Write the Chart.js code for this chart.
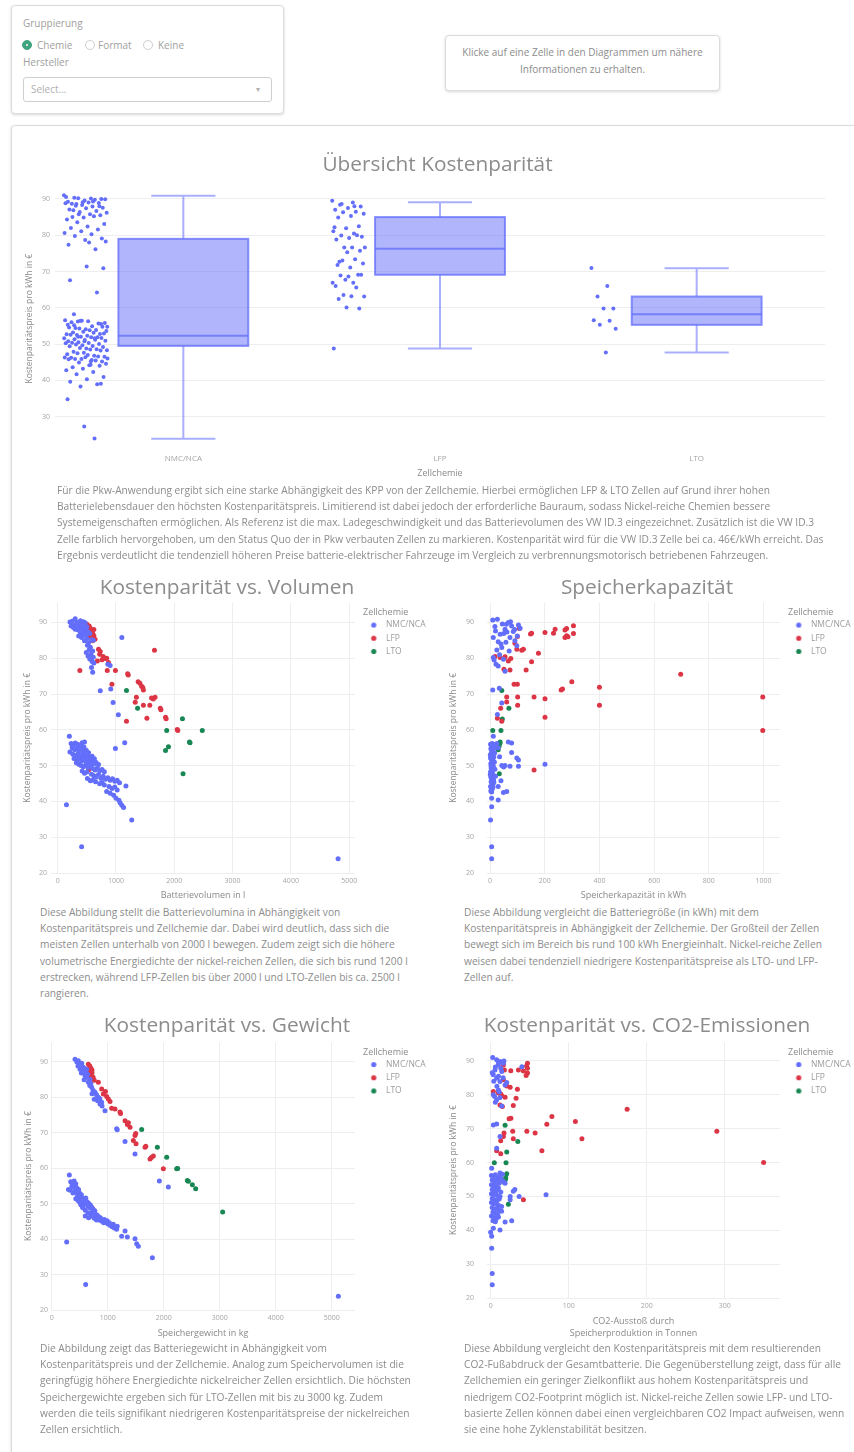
<!DOCTYPE html>
<html>
<head>
<meta charset="utf-8">
<script src="https://cdn.jsdelivr.net/npm/chart.js@4.4.0/dist/chart.umd.min.js"></script>
<style>
body{margin:0;width:854px;height:1452px;position:relative;overflow:hidden;background:#fff;font-family:"Open Sans",sans-serif;color:#8a8a8a}
.card{position:absolute;border:1px solid #dcdcdc;border-radius:4px;box-shadow:0 1px 3px rgba(0,0,0,.16);background:#fff}
.lbl{position:absolute;font-size:10px;line-height:12px;color:#a0a0a0;white-space:nowrap}
.radio{position:absolute;width:8px;height:8px;border:1px solid #cfcfcf;border-radius:50%;background:#fff}
.radio.on{background:#3fa47f;border-color:#3fa47f}
.radio.on:after{content:"";position:absolute;left:3px;top:3px;width:2px;height:2px;border-radius:50%;background:#fff}
.txt{position:absolute;font-size:10.2px;line-height:16.2px;color:#8c8c8c;white-space:nowrap}
canvas{position:absolute}
</style>
</head>
<body>

<div class="card" style="left:11px;top:5px;width:271px;height:107px"></div>
<div class="lbl" style="left:23px;top:17px">Gruppierung</div>
<div class="radio on" style="left:22px;top:40px"></div>
<div class="lbl" style="left:37px;top:39px">Chemie</div>
<div class="radio" style="left:85px;top:40px"></div>
<div class="lbl" style="left:98px;top:39px">Format</div>
<div class="radio" style="left:143px;top:40px"></div>
<div class="lbl" style="left:158px;top:39px">Keine</div>
<div class="lbl" style="left:23px;top:56px">Hersteller</div>
<div style="position:absolute;left:23px;top:77px;width:247px;height:23px;border:1px solid #cfcfcf;border-radius:3px"></div>
<div class="lbl" style="left:31px;top:83px;color:#b0b0b0">Select...</div>
<div class="lbl" style="left:256px;top:83px;color:#b0b0b0;font-size:8px">&#9662;</div>

<div class="card" style="left:445px;top:35px;width:273px;height:54px"></div>
<div class="lbl" style="left:445px;top:44px;width:275px;text-align:center;line-height:17px;color:#8c8c8c">Klicke auf eine Zelle in den Diagrammen um nähere<br>Informationen zu erhalten.</div>

<div class="card" style="left:11px;top:125px;width:870px;height:1400px"></div>

<canvas id="boxChart" width="845" height="345" style="left:15px;top:140px"></canvas>
<div class="txt" style="left:57px;top:482px">Für die Pkw-Anwendung ergibt sich eine starke Abhängigkeit des KPP von der Zellchemie. Hierbei ermöglichen LFP &amp; LTO Zellen auf Grund ihrer hohen<br>Batterielebensdauer den höchsten Kostenparitätspreis. Limitierend ist dabei jedoch der erforderliche Bauraum, sodass Nickel-reiche Chemien bessere<br>Systemeigenschaften ermöglichen. Als Referenz ist die max. Ladegeschwindigkeit und das Batterievolumen des VW ID.3 eingezeichnet. Zusätzlich ist die VW ID.3<br>Zelle farblich hervorgehoben, um den Status Quo der in Pkw verbauten Zellen zu markieren. Kostenparität wird für die VW ID.3 Zelle bei ca. 46€/kWh erreicht. Das<br>Ergebnis verdeutlicht die tendenziell höheren Preise batterie-elektrischer Fahrzeuge im Vergleich zu verbrennungsmotorisch betriebenen Fahrzeugen.</div>

<canvas id="volChart" width="414" height="331" style="left:20px;top:570px"></canvas>
<canvas id="capChart" width="414" height="331" style="left:440px;top:570px"></canvas>
<div class="txt" style="left:40px;top:904px">Diese Abbildung stellt die Batterievolumina in Abhängigkeit von<br>Kostenparitätspreis und Zellchemie dar. Dabei wird deutlich, dass sich die<br>meisten Zellen unterhalb von 2000 l bewegen. Zudem zeigt sich die höhere<br>volumetrische Energiedichte der nickel-reichen Zellen, die sich bis rund 1200 l<br>erstrecken, während LFP-Zellen bis über 2000 l und LTO-Zellen bis ca. 2500 l<br>rangieren.</div>
<div class="txt" style="left:464px;top:904px">Diese Abbildung vergleicht die Batteriegröße (in kWh) mit dem<br>Kostenparitätspreis in Abhängigkeit der Zellchemie. Der Großteil der Zellen<br>bewegt sich im Bereich bis rund 100 kWh Energieinhalt. Nickel-reiche Zellen<br>weisen dabei tendenziell niedrigere Kostenparitätspreise als LTO- und LFP-<br>Zellen auf.</div>

<canvas id="wgtChart" width="414" height="332" style="left:20px;top:1010px"></canvas>
<canvas id="co2Chart" width="414" height="332" style="left:440px;top:1010px"></canvas>
<div class="txt" style="left:40px;top:1340px">Die Abbildung zeigt das Batteriegewicht in Abhängigkeit vom<br>Kostenparitätspreis und der Zellchemie. Analog zum Speichervolumen ist die<br>geringfügig höhere Energiedichte nickelreicher Zellen ersichtlich. Die höchsten<br>Speichergewichte ergeben sich für LTO-Zellen mit bis zu 3000 kg. Zudem<br>werden die teils signifikant niedrigeren Kostenparitätspreise der nickelreichen<br>Zellen ersichtlich.</div>
<div class="txt" style="left:464px;top:1340px">Diese Abbildung vergleicht den Kostenparitätspreis mit dem resultierenden<br>CO2-Fußabdruck der Gesamtbatterie. Die Gegenüberstellung zeigt, dass für alle<br>Zellchemien ein geringer Zielkonflikt aus hohem Kostenparitätspreis und<br>niedrigem CO2-Footprint möglich ist. Nickel-reiche Zellen sowie LFP- und LTO-<br>basierte Zellen können dabei einen vergleichbaren CO2 Impact aufweisen, wenn<br>sie eine hohe Zyklenstabilität besitzen.</div>

<script>
// ---------- data ----------
const chemistries = ['NMC/NCA', 'LFP', 'LTO'];
const chemColors = ['#636efa', '#dc3545', '#198754'];
const priceTicks = [20, 30, 40, 50, 60, 70, 80, 90];
const boxPriceTicks = [30, 40, 50, 60, 70, 80, 90];
const volumeTicks = [0, 1000, 2000, 3000, 4000, 5000];
const capacityTicks = [0, 200, 400, 600, 800, 1000];
const weightTicks = [0, 1000, 2000, 3000, 4000, 5000];
const co2Ticks = [0, 100, 200, 300];
const priceTitle = 'Kostenparitätspreis pro kWh in €';

// box statistics per chemistry
const boxMin = [23.9, 48.8, 47.7];
const boxQ1 = [49.5, 69.1, 55.3];
const boxMedian = [52.3, 76.3, 58.2];
const boxQ3 = [79.0, 85.0, 63.1];
const boxMax = [90.9, 89.1, 70.9];

// [volume l, price]
const nmcVolume = [
  [300,91.0],[210,90.1],[250,90.3],[330,90.0],[360,89.6],[280,89.2],[400,89.8],[440,90.2],[470,89.9],[230,89.0],
  [320,88.7],[380,88.9],[420,88.3],[500,88.8],[350,87.9],[300,88.1],[450,87.6],[520,87.4],[390,87.1],[430,86.7],
  [480,86.4],[360,86.2],[410,85.8],[550,86.9],[500,85.5],[460,84.9],[530,84.3],[580,85.2],[510,83.6],[560,83.1],
  [540,82.4],[600,82.0],[490,81.6],[570,81.1],[520,80.6],[610,80.3],[550,79.8],[590,79.1],[620,78.7],[580,77.4],
  [600,76.1],[1100,85.8],[860,78.3],[900,78.0],[610,85.0],[470,88.0],[430,89.1],[390,90.5],[340,89.3],[270,88.6],
  [730,70.9],[910,71.4],[950,67.6],[1040,64.2],[1150,56.4],[990,54.8],[1170,44.3],[200,58.2],[150,39.1],[410,27.3],
  [1270,34.8],[4810,24.0],
  [230,56.2],[270,55.8],[300,56.3],[340,56.0],[380,55.7],[420,56.4],[460,56.6],[250,54.9],[290,54.4],[330,54.8],
  [370,54.1],[410,54.6],[450,53.9],[490,54.3],[530,53.6],[210,53.8],[260,53.2],[310,52.8],[350,53.4],[390,52.7],
  [430,53.1],[470,52.5],[510,52.9],[550,52.3],[590,52.6],[630,51.9],[280,52.0],[330,51.6],[370,51.9],[410,51.3],
  [450,51.7],[490,51.1],[540,50.8],[580,51.2],[620,50.5],[660,50.9],[700,50.3],[360,50.4],[400,50.0],[440,49.7],
  [480,50.2],[520,49.5],[560,49.9],[600,49.2],[640,48.8],[680,49.4],[720,48.6],[760,48.9],[800,48.3],[420,48.5],
  [460,47.9],[500,48.2],[580,47.6],[620,47.2],[660,46.8],[700,47.5],[740,46.5],[780,47.0],[820,46.2],[860,46.6],
  [900,45.9],[940,46.3],[980,45.6],[1020,45.9],[1060,45.2],[510,46.4],[560,45.8],[650,45.5],[720,44.9],[800,44.6],
  [880,44.2],[930,43.6],[980,44.0],[1020,43.2],[840,42.8],[900,42.3],[960,41.7],[1000,40.9],[1050,40.3],[1070,39.6],
  [1100,38.9],[1130,38.3],[600,46.0],[760,45.3],[450,55.2],[350,55.5],[320,50.8],[250,55.3],[520,51.6],[440,52.0]
];
const lfpVolume = [
  [500,89.5],[540,89.0],[560,88.4],[520,87.9],[580,87.5],[600,87.0],[550,86.5],[620,86.3],[570,85.9],[640,85.3],
  [600,84.9],[700,82.5],[730,81.9],[720,81.1],[780,80.5],[810,79.9],[760,79.6],[680,79.2],[870,78.8],[840,80.0],
  [380,76.6],[850,76.6],[990,76.6],[930,72.7],[1200,75.7],[1210,75.3],[1660,82.2],[1380,73.4],[1410,73.0],[1440,72.2],
  [1470,71.1],[1460,71.8],[1350,69.1],[1330,67.7],[1470,66.9],[1580,66.9],[1610,68.9],[1670,69.1],[1640,68.6],[1760,66.0],
  [1770,65.6],[1850,63.5],[1860,63.1],[1530,63.2],[1180,62.4],[2060,59.8],[2050,60.1],[530,48.8],[620,88.0],[530,88.6]
];
const ltoVolume = [
  [1180,71.0],[1370,66.0],[2140,63.1],[1870,59.8],[2480,59.8],[2260,56.6],[2270,56.4],[1900,55.3],[1850,54.2],[2150,47.7]
];

// [capacity kWh, price]
const nmcCapacity = [
  [10,90.7],[27,90.9],[18,88.9],[12,85.8],[30,84.6],[43,83.0],[37,86.7],[55,88.1],[67,90.0],[79,89.0],
  [104,89.3],[110,88.4],[73,85.8],[91,84.9],[98,83.5],[12,80.2],[22,78.3],[30,77.8],[49,79.7],[55,76.4],
  [60,89.5],[75,90.2],[85,87.5],[50,86.9],[62,87.3],[45,89.6],[90,88.0],[40,84.0],[25,82.3],[35,81.0],
  [70,82.0],[100,86.2],[58,84.5],[20,87.6],[15,79.5],
  [10,71.1],[34,71.6],[43,67.5],[27,64.3],[12,58.2],
  [2,56.0],[5,55.6],[8,56.2],[12,55.3],[15,55.8],[3,54.7],[6,54.2],[9,54.9],[13,53.8],[4,53.4],
  [7,52.9],[10,53.1],[14,52.4],[2,52.1],[5,51.7],[8,51.9],[11,51.3],[16,51.0],[3,50.6],[6,50.2],
  [9,50.8],[12,49.9],[4,49.4],[7,49.1],[10,48.7],[13,49.3],[2,48.3],[5,47.9],[8,48.0],[11,47.4],
  [15,47.1],[3,46.8],[6,46.3],[9,46.6],[12,45.9],[4,45.5],[7,45.1],[10,44.7],[14,45.3],[2,44.2],
  [5,43.8],[8,43.5],[11,44.0],[3,42.9],[6,42.6],[4,50.0],[1,53.0],[17,53.5],[18,49.0],[1,47.5],
  [13,46.0],[16,55.0],
  [79,56.3],[67,56.6],[79,53.7],[98,52.1],[104,51.6],[73,49.8],[104,49.8],[43,50.0],[201,50.4],[40,45.8],
  [30,44.2],[49,42.5],[61,42.8],[30,40.4],[6,40.9],[6,38.5],[2,34.8],[6,27.3],[6,24.0],[25,56.2],
  [30,55.0],[55,50.0],[50,49.6],[35,52.5],[20,47.0]
];
const lfpCapacity = [
  [107,88.3],[152,87.0],[148,86.8],[201,87.2],[232,87.0],[238,88.1],[274,87.9],[280,88.3],[305,89.1],[305,86.9],
  [274,85.8],[280,86.3],[100,86.1],[91,84.2],[98,82.5],[116,82.2],[122,82.5],[177,81.4],[152,79.0],[132,76.7],
  [18,80.5],[37,80.2],[55,80.4],[67,79.2],[76,79.9],[51,76.9],[73,76.7],[88,72.7],[100,72.7],[260,71.1],
  [299,73.4],[400,71.9],[400,66.9],[697,75.5],[997,69.2],[997,59.8],[61,69.2],[101,69.2],[161,69.2],[201,68.7],
  [61,67.8],[101,66.9],[39,66.0],[201,63.5],[27,63.2],[43,62.4],[161,48.8],[285,86.0],[265,71.4]
];
const ltoCapacity = [
  [43,71.0],[69,66.0],[45,63.0],[10,59.8],[40,59.8],[37,56.6],[36,56.2],[33,55.4],[30,54.4],[34,47.7]
];

// [weight kg, price]
const nmcWeight = [
  [417,90.7],[476,90.3],[536,89.6],[506,87.9],[565,87.0],[595,86.1],[655,84.2],[714,82.8],[774,81.4],[833,80.0],
  [893,78.6],[952,76.2],[625,87.9],[684,85.1],[863,78.1],[450,89.9],[500,89.2],[560,88.5],[530,86.8],[590,88.1],
  [470,88.8],[620,85.6],[700,83.9],[740,82.0],[800,80.7],[760,79.4],[820,79.0],[900,77.5],[640,86.5],[580,84.9],
  [680,83.3],[720,81.0],[860,79.6],[550,87.6],[600,87.3],
  [1161,71.1],[1170,70.8],[1310,67.5],[1488,64.0],[1923,56.4],[2083,54.7],[315,58.1],[268,39.2],[607,27.2],[1798,34.7],
  [5119,23.9],[1488,40.1],[1518,38.7],[1547,38.0],[1310,42.3],[1250,40.8],[1351,40.6],
  [340,56.2],[370,55.9],[400,56.4],[430,55.6],[360,55.0],[390,54.6],[420,55.2],[450,54.4],[480,54.0],[410,53.5],
  [440,53.1],[470,53.6],[500,52.9],[530,52.5],[460,52.1],[490,51.8],[520,52.2],[550,51.5],[580,51.1],[610,51.6],
  [540,50.7],[570,50.3],[600,49.9],[630,50.5],[660,50.1],[690,49.6],[650,49.2],[680,48.8],[710,49.1],[740,48.4],
  [770,48.0],[720,47.6],[750,47.3],[780,47.0],[810,46.8],[840,46.3],[870,46.0],[820,45.6],[860,45.3],[900,45.0],
  [930,44.6],[960,44.9],[1000,44.3],[1040,43.9],[1080,43.5],[1120,43.1],[1160,42.8],[1170,43.6],[940,45.5],[990,45.2],
  [1030,44.6],[1100,44.2],[500,50.4],[520,49.7],[560,48.8],[600,48.1],[650,47.4],[700,46.5],[760,45.9],[800,45.4],
  [300,54.0],[330,53.8],[380,53.0],[430,51.4],[470,50.9],[550,49.0],[600,46.5],[660,46.0]
];
const lfpWeight = [
  [655,89.3],[680,88.8],[700,88.2],[640,87.9],[690,87.4],[720,86.9],[660,86.5],[700,86.0],[740,85.6],[680,85.2],
  [760,84.8],[833,84.2],[893,82.3],[923,80.9],[982,80.2],[1012,79.5],[1042,78.8],[960,81.6],[1071,76.9],[1131,76.7],
  [1220,75.8],[1230,75.4],[1310,73.4],[1351,72.3],[1399,71.5],[1370,72.8],[1488,69.2],[1500,69.8],[1458,67.8],[1506,66.9],
  [1667,65.9],[1680,66.2],[1756,62.6],[1815,63.4],[1780,63.0],[1994,59.8],[732,48.6],[720,87.7],[730,85.1]
];
const ltoWeight = [
  [1607,70.9],[1887,65.9],[2054,63.1],[2232,59.8],[2250,59.9],[2423,56.5],[2440,56.3],[2512,55.3],[2571,54.2],[3053,47.6]
];

// [CO2 t, price]
const nmcCo2 = [
  [2.6,91.0],[7.7,90.3],[12,89.8],[9.9,88.8],[16.3,89.3],[5.6,87.3],[14.2,86.9],[3.4,85.9],[7.7,84.9],[12,83.9],
  [18.5,82.9],[20.6,83.6],[40,88.3],[9.9,81.4],[3.4,80.0],[7.7,78.5],[14.2,76.7],[10,89.5],[6,88.2],[13,87.8],
  [4,84.0],[10,85.5],[16,85.0],[8,82.5],[5,79.5],[12,79.2],[2,86.5],[17,90.0],[11,80.8],[6,77.8],
  [3.4,71.1],[7.7,71.4],[12,67.7],[7.7,64.2],[1.3,58.3],
  [1,56.2],[3,55.8],[6,56.4],[9,55.5],[12,56.0],[15,56.5],[2,54.8],[5,54.3],[8,54.9],[11,53.9],
  [1,53.4],[4,52.9],[7,53.2],[10,52.5],[2,52.0],[5,51.6],[8,51.9],[13,51.3],[1,50.8],[4,50.3],
  [7,50.7],[10,49.9],[2,49.4],[5,49.0],[8,48.7],[11,49.2],[1,48.2],[4,47.8],[7,48.0],[10,47.4],
  [14,47.0],[2,46.7],[5,46.2],[8,46.5],[11,45.8],[3,45.4],[6,45.0],[9,44.6],[1,44.2],[4,43.8],
  [7,43.4],[3,42.8],[6,42.5],[16,54.5],[13,55.2],
  [12,56.9],[18.5,53.9],[29,51.5],[31,52.0],[25,50.0],[12,50.0],[25,49.0],[36.5,50.0],[71,50.5],[14,45.6],
  [10,43.9],[18.5,42.4],[27,42.8],[12,40.1],[3.4,40.6],[0,39.4],[1.3,38.2],[1.3,34.7],[2,27.2],[2,23.9]
];
const lfpCo2 = [
  [16.3,88.8],[17.6,87.3],[25.8,87.1],[35.6,87.3],[42,87.0],[47.2,89.3],[47.2,87.8],[47.2,86.4],[45.5,85.7],[16.3,84.4],
  [20.6,82.6],[25,82.2],[34.3,81.6],[3.4,81.0],[9.9,80.5],[14.2,79.7],[18.5,79.3],[32.6,79.0],[29,76.8],[12,77.0],
  [15,76.5],[23.6,72.9],[26,73.1],[78.5,73.6],[72,71.3],[108.6,72.1],[117,67.0],[175,75.7],[290,69.2],[350,60.0],
  [46.4,69.2],[57,68.7],[28.3,69.2],[17.1,68.7],[16.3,67.7],[12.9,66.4],[29,67.0],[65.7,63.5],[7.7,63.5],[12.9,62.6],
  [42,49.0],[46,88.5],[13,80.2]
];
const ltoCo2 = [
  [18.5,71.0],[34.8,66.2],[20.6,63.1],[4.7,59.9],[19.7,59.9],[20.6,56.7],[19.3,55.6],[17.6,54.1],[19,55.0],[22.7,47.7]
];

// ---------- style ----------
Chart.defaults.font.family = '"Open Sans", sans-serif';
Chart.defaults.color = '#a5a5a5';
const gridColor = '#eeeeee';
const titleColor = '#8c8c8c';
const axisTitleColor = '#8a8a8a';
// strip position left of each box (category units)
const stripOffset = [-0.38, -0.355, -0.36];
const stripSpread = [0.17, 0.13, 0.1];
const legendWidth = 66;

function legendDot(color) {
  const c = document.createElement('canvas');
  c.width = 14; c.height = 7;
  const g = c.getContext('2d');
  g.fillStyle = color;
  g.beginPath(); g.arc(6, 3.5, 2.6, 0, Math.PI * 2); g.fill();
  return c;
}
const dots = chemColors.map(legendDot);
const plainNum = v => String(v);

// box + whiskers, drawn through the chart's own scales
const boxPlugin = {
  id: 'boxes',
  beforeDatasetsDraw(chart) {
    const {ctx, scales: {x, y}} = chart;
    ctx.save();
    chemistries.forEach((c, i) => {
      const xl = x.getPixelForValue(i - 0.253), xr = x.getPixelForValue(i + 0.253);
      const cl = x.getPixelForValue(i - 0.125), cr = x.getPixelForValue(i + 0.125);
      const xc = x.getPixelForValue(i);
      const q1 = y.getPixelForValue(boxQ1[i]), q3 = y.getPixelForValue(boxQ3[i]);
      const md = y.getPixelForValue(boxMedian[i]);
      const lo = y.getPixelForValue(boxMin[i]), hi = y.getPixelForValue(boxMax[i]);
      ctx.fillStyle = 'rgba(99,110,250,0.5)';
      ctx.fillRect(xl, q3, xr - xl, q1 - q3);
      ctx.strokeStyle = 'rgba(99,110,250,0.75)';
      ctx.lineWidth = 2;
      ctx.strokeRect(xl, q3, xr - xl, q1 - q3);
      ctx.beginPath();
      ctx.moveTo(xl, md); ctx.lineTo(xr, md);
      ctx.stroke();
      ctx.strokeStyle = 'rgba(99,110,250,0.55)';
      ctx.beginPath();
      ctx.moveTo(xc, q3); ctx.lineTo(xc, hi);
      ctx.moveTo(xc, q1); ctx.lineTo(xc, lo);
      ctx.moveTo(cl, hi); ctx.lineTo(cr, hi);
      ctx.moveTo(cl, lo); ctx.lineTo(cr, lo);
      ctx.stroke();
    });
    ctx.restore();
  }
};

// ---------- overview (box plot) ----------
const stripSets = [nmcVolume, lfpVolume, ltoVolume].map((pts, i) => ({
  label: chemistries[i],
  data: pts.map((p, k) => ({x: i + stripOffset[i] + (((k * 0.6180339887) % 1) - 0.5) * stripSpread[i], y: p[1]})),
  backgroundColor: chemColors[0],
  borderWidth: 0,
  pointRadius: 2
}));

new Chart(document.getElementById('boxChart'), {
  type: 'scatter',
  data: {datasets: stripSets},
  plugins: [boxPlugin],
  options: {
    responsive: false, animation: false, events: [],
    plugins: {
      legend: {display: false},
      tooltip: {enabled: false},
      title: {display: true, text: 'Übersicht Kostenparität', color: titleColor, font: {size: 20.8, weight: 'normal'}, padding: {top: 12.5, bottom: 12.4}}
    },
    scales: {
      x: {
        type: 'linear', min: -0.5, max: 2.5,
        afterBuildTicks: s => { s.ticks = chemistries.map((c, i) => ({value: i})); },
        afterFit: s => { s.height = 37.5; },
        grid: {display: false, drawTicks: false}, border: {display: false},
        ticks: {padding: 6.7, autoSkip: false, maxRotation: 0, font: {size: 8}, callback: v => chemistries[v]},
        title: {display: true, text: 'Zellchemie', color: axisTitleColor, font: {size: 9}, padding: {top: 0, bottom: 6.3}}
      },
      y: {
        min: 21.5, max: 92.5,
        afterBuildTicks: s => { s.ticks = boxPriceTicks.map(v => ({value: v})); },
        afterFit: s => { s.width = 40; },
        grid: {color: gridColor, drawTicks: false}, border: {display: false},
        ticks: {padding: 5, font: {size: 7}, callback: plainNum},
        title: {display: true, text: priceTitle, color: axisTitleColor, font: {size: 8.5}, padding: {top: 9.9, bottom: 0}}
      },
      tail: {type: 'linear', axis: 'y', position: 'right', display: true, grid: {display: false}, ticks: {display: false}, border: {display: false}, afterFit: s => { s.width = 35; }}
    }
  }
});

// ---------- scatter charts ----------
function scatterChart(id, o) {
  const chart = new Chart(document.getElementById(id), {
    type: 'scatter',
    data: {
      datasets: o.sets.map((pts, i) => ({
        label: chemistries[i],
        data: pts.map(p => ({x: p[0], y: p[1]})),
        backgroundColor: chemColors[i],
        borderWidth: 0,
        pointRadius: 2.5
      }))
    },
    options: {
      responsive: false, animation: false, events: [],
      plugins: {
        tooltip: {enabled: false},
        title: {display: true, text: o.title, color: titleColor, font: {size: 20.8, weight: 'normal'}, padding: {top: o.titleTop, bottom: o.titleBottom}},
        legend: {
          position: 'right', align: 'start', fullSize: false,
          title: {display: true, text: 'Zellchemie', position: 'start', color: axisTitleColor, font: {size: 9}, padding: {top: 5.5, bottom: -3}},
          labels: {
            usePointStyle: true, pointStyleWidth: 14, boxHeight: 7, padding: 4.7,
            font: {size: 8.5}, color: '#9c9c9c',
            generateLabels: ch => Chart.defaults.plugins.legend.labels.generateLabels(ch)
              .map((l, i) => Object.assign(l, {pointStyle: dots[i]}))
          }
        }
      },
      scales: {
        x: {
          type: 'linear', min: o.xMin, max: o.xMax,
          afterBuildTicks: s => { s.ticks = o.xTicks.map(v => ({value: v})); },
          afterFit: s => { s.height = o.xAxisH; },
          grid: {color: gridColor, drawTicks: false}, border: {display: false},
          ticks: {padding: 4, autoSkip: false, maxRotation: 0, font: {size: 7}, callback: plainNum},
          title: {display: true, text: o.xTitle, color: axisTitleColor, font: {size: 9, lineHeight: o.xTitleLH}, padding: {top: 0, bottom: o.xTitlePad}}
        },
        y: {
          min: 20, max: 95.5,
          afterBuildTicks: s => { s.ticks = priceTicks.map(v => ({value: v})); },
          afterFit: s => { s.width = o.yAxisW; },
          grid: {color: gridColor, drawTicks: false}, border: {display: false},
          ticks: {padding: o.yTickPad, font: {size: 7}, callback: plainNum},
          title: {display: true, text: priceTitle, color: axisTitleColor, font: {size: 8.5}, padding: {top: o.yTitlePad, bottom: 0}}
        },
        gap: {type: 'linear', axis: 'y', position: 'right', display: true, weight: 0, grid: {display: false}, ticks: {display: false}, border: {display: false}, afterFit: s => { s.width = 8; }},
        tail: {type: 'linear', axis: 'y', position: 'right', display: true, weight: 2000, grid: {display: false}, ticks: {display: false}, border: {display: false}, afterFit: s => { s.width = o.tail; }}
      }
    }
  });
  // keep the legend column at a fixed width so the plot area lines up
  const fit = chart.legend.fit;
  chart.legend.fit = function () { fit.call(this); this.width = legendWidth; };
  chart.update();
  return chart;
}

scatterChart('volChart', {
  title: 'Kostenparität vs. Volumen', sets: [nmcVolume, lfpVolume, ltoVolume],
  xTitle: 'Batterievolumen in l', xTicks: volumeTicks, xMin: -115, xMax: 5100,
  titleTop: 5.5, titleBottom: 2.3, xAxisH: 28, xTitlePad: 0.6, xTitleLH: 1.2,
  yAxisW: 31, yTickPad: 4, yTitlePad: 2.9, tail: 5
});
scatterChart('capChart', {
  title: 'Speicherkapazität', sets: [nmcCapacity, lfpCapacity, ltoCapacity],
  xTitle: 'Speicherkapazität in kWh', xTicks: capacityTicks, xMin: -11, xMax: 1060,
  titleTop: 5.5, titleBottom: 2.3, xAxisH: 28, xTitlePad: 0.6, xTitleLH: 1.2,
  yAxisW: 47, yTickPad: 13, yTitlePad: 8.2, tail: 0
});
scatterChart('wgtChart', {
  title: 'Kostenparität vs. Gewicht', sets: [nmcWeight, lfpWeight, ltoWeight],
  xTitle: 'Speichergewicht in kg', xTicks: weightTicks, xMin: -12, xMax: 5416,
  titleTop: 3.5, titleBottom: 3.8, xAxisH: 32, xTitlePad: 3.3, xTitleLH: 1.2,
  yAxisW: 31, yTickPad: 3, yTitlePad: 3.2, tail: 5
});
scatterChart('co2Chart', {
  title: 'Kostenparität vs. CO2-Emissionen', sets: [nmcCo2, lfpCo2, ltoCo2],
  xTitle: ['CO2-Ausstoß durch', 'Speicherproduktion in Tonnen'], xTicks: co2Ticks, xMin: -4.7, xMax: 371,
  titleTop: 3.5, titleBottom: 3.8, xAxisH: 44, xTitlePad: 2.75, xTitleLH: 1.3,
  yAxisW: 47, yTickPad: 13, yTitlePad: 8.2, tail: 0
});
</script>
</body>
</html>
